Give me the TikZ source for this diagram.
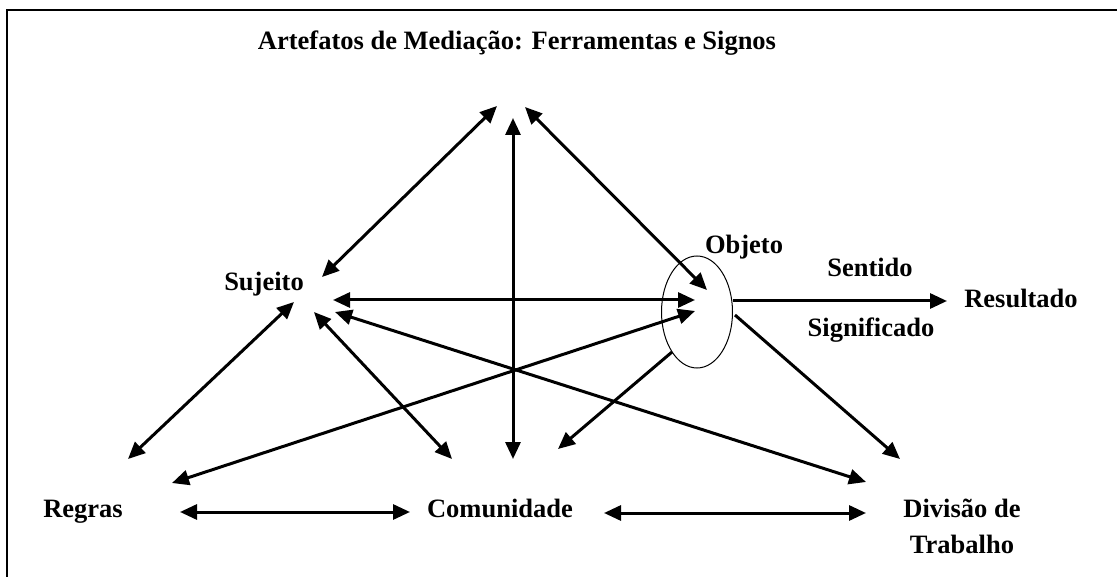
\documentclass[tikz,border=0pt]{standalone}
\usepackage{fontspec}
\setmainfont{Liberation Serif}
\usetikzlibrary{arrows.meta,shapes.geometric}

\begin{document}
\begin{tikzpicture}[x=1pt,y=-1pt,
    lbl/.style={font=\bfseries\fontsize{26.5}{36}\selectfont, align=center, inner sep=0pt, anchor=base},
    link/.style={line width=3pt, {Triangle[length=17pt,width=15pt]}-{Triangle[length=17pt,width=15pt]}},
    flow/.style={line width=3pt, -{Triangle[length=17pt,width=15pt]}}]
    \useasboundingbox (0,0) rectangle (1117,577);

    % Frame
    \draw[line width=2pt] (6.5,577) -- (6.5,10.5) -- (1117,10.5);

    % Labels
    \node[lbl] (artefatos) at (517,50) {Artefatos de Mediação: Ferramentas e Signos};
    \node[lbl] (sujeito) at (264,291) {Sujeito};
    \node[lbl] (objlabel) at (744,254) {Objeto};
    \node[lbl] (sentido) at (870,277) {Sentido};
    \node[lbl] (significado) at (871,337) {Significado};
    \node[lbl] (resultado) at (1021,308) {Resultado};
    \node[lbl] (regras) at (83,517) {Regras};
    \node[lbl] (comunidade) at (500,517) {Comunidade};
    \node[lbl, anchor=north] (divisao) at (962,499) {Divisão de\\Trabalho};

    % Object ellipse
    \node[draw, ellipse, line width=1pt, inner sep=0pt, minimum width=71pt, minimum height=112pt] (objeto) at (697,312) {};

    % Arrow ends
    \coordinate (suj-art) at (322,277);  \coordinate (art-suj) at (497,106);
    \coordinate (suj-obj) at (333,300);  \coordinate (obj-suj) at (695,300);
    \coordinate (suj-div) at (335,312);  \coordinate (div-suj) at (866,482);
    \coordinate (suj-com) at (314,312);  \coordinate (com-suj) at (452,459);
    \coordinate (suj-reg) at (294,302);  \coordinate (reg-suj) at (128,459);
    \coordinate (art-com) at (513,118);  \coordinate (com-art) at (513,459);
    \coordinate (art-obj) at (525,107);  \coordinate (obj-art) at (707,290);
    \coordinate (obj-reg) at (695,311);  \coordinate (reg-obj) at (172,483);
    \coordinate (obj-res) at (733,301);  \coordinate (res-obj) at (947,301);
    \coordinate (obj-div) at (735,315);  \coordinate (div-obj) at (900,459);
    \coordinate (obj-com) at (672,352);  \coordinate (com-obj) at (558,449);
    \coordinate (reg-com) at (180,512);  \coordinate (com-reg) at (410,512);
    \coordinate (com-div) at (604,513);  \coordinate (div-com) at (866,513);

    % Triangle links
    \draw[link] (suj-art) -- (art-suj);
    \draw[link] (art-com) -- (com-art);
    \draw[link] (art-obj) -- (obj-art);
    \draw[link] (suj-obj) -- (obj-suj);
    \draw[link] (suj-div) -- (div-suj);
    \draw[link] (suj-com) -- (com-suj);
    \draw[link] (suj-reg) -- (reg-suj);
    \draw[link] (obj-reg) -- (reg-obj);
    \draw[link] (reg-com) -- (com-reg);
    \draw[link] (com-div) -- (div-com);

    % From the object
    \draw[flow] (obj-res) -- (res-obj);
    \draw[flow] (obj-div) -- (div-obj);
    \draw[flow] (obj-com) -- (com-obj);
\end{tikzpicture}
\end{document}
